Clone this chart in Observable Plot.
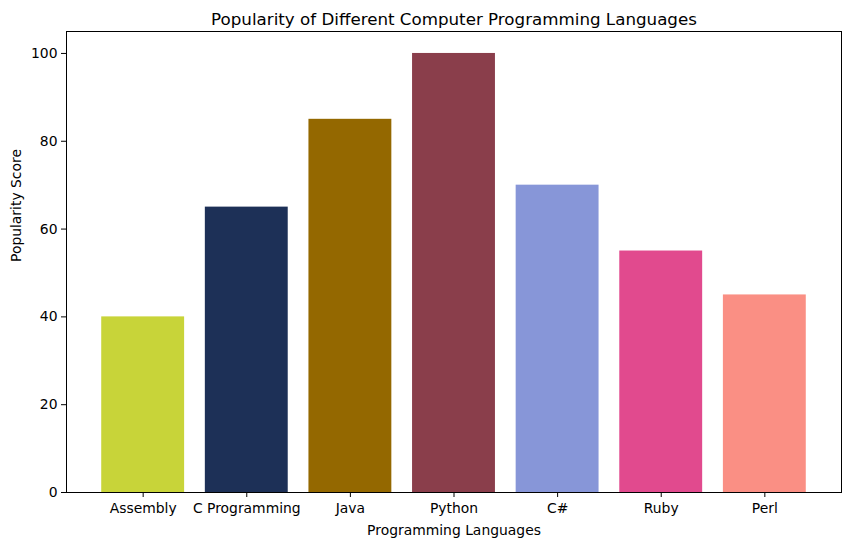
<!DOCTYPE html>
<html><head><meta charset="utf-8">
<script src="https://cdn.jsdelivr.net/npm/d3@7"></script>
<script src="https://cdn.jsdelivr.net/npm/@observablehq/plot@0.6"></script>
<style>body{margin:0;background:#fff;} svg{font-family:"DejaVu Sans",sans-serif;}</style>
</head><body><div id="chart"></div>
<script>
const languages = ["Assembly", "C Programming", "Java", "Python", "C#", "Ruby", "Perl"];
const scores = [40, 65, 85, 100, 70, 55, 45];
const colors = ["#c8d439", "#1d3057", "#946800", "#8a3e4b", "#8796d8", "#e14a8e", "#fa8f84"];
const yTicks = [0, 20, 40, 60, 80, 100];
const title = "Popularity of Different Computer Programming Languages";
const xLabel = "Programming Languages";
const yLabel = "Popularity Score";

const data = languages.map((l, i) => ({lang: l, score: scores[i], color: colors[i]}));

const plot = Plot.plot({
  width: 850, height: 545,
  marginTop: 31, marginLeft: 66, marginRight: 9, marginBottom: 53,
  style: {fontSize: "13.9px", fontFamily: "DejaVu Sans, sans-serif", color: "#000", background: "#fff"},
  x: {domain: languages, paddingInner: 0.2, paddingOuter: 0.34, round: false, label: null},
  y: {domain: [0, 105], ticks: yTicks, label: null},
  marks: [
    Plot.barY(data, {x: "lang", y: "score", fill: "color"}),
    Plot.axisX({tickSize: 5, tickPadding: 6, fontSize: 13.9, label: null}),
    Plot.axisY({ticks: yTicks, tickSize: 5, tickPadding: 4, fontSize: 13.9, label: null}),
    Plot.frame({stroke: "#000", strokeWidth: 1}),
    Plot.text([title], {frameAnchor: "top", dy: -7, fontSize: 16.7, fill: "#000", lineAnchor: "bottom"}),
    Plot.text([xLabel], {frameAnchor: "bottom", dy: 42, fontSize: 13.9, fill: "#000"}),
    Plot.text([yLabel], {frameAnchor: "left", dx: -50, rotate: -90, fontSize: 13.9, fill: "#000"})
  ]
});
document.getElementById("chart").appendChild(plot);
</script></body></html>
